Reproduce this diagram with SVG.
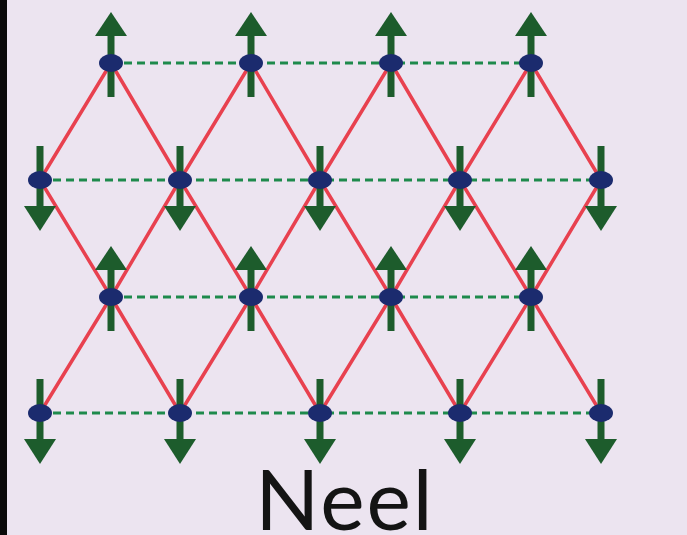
<svg xmlns="http://www.w3.org/2000/svg" width="687" height="535" viewBox="0 0 687 535">
<defs>
<style>
.red{stroke:#e8414f;stroke-width:3.5;fill:none}
.grn{stroke:#1e8a4c;stroke-width:3;stroke-dasharray:8 5;fill:none}
.shaft{stroke:#1d5c2c;stroke-width:7}
.head{fill:#1d5c2c}
.node{fill:#1b2b6e}
</style>
<g id="up"><line class="shaft" x1="0" y1="34" x2="0" y2="-30"/><polygon class="head" points="0,-51 -16,-27 16,-27"/></g>
<g id="down"><line class="shaft" x1="0" y1="-34" x2="0" y2="30"/><polygon class="head" points="0,51 -16,26 16,26"/></g>
</defs>
<rect width="687" height="535" fill="#ece4f0"/>
<rect width="7" height="535" fill="#0a0a0a"/>
<g id="connectors">
<g id="bonds-red">
<polyline class="red" points="40,180 111,63 180,180 251,63 320,180 391,63 460,180 531,63 601,180"/>
<polyline class="red" points="40,180 111,297 180,180 251,297 320,180 391,297 460,180 531,297 601,180"/>
<polyline class="red" points="40,413 111,297 180,413 251,297 320,413 391,297 460,413 531,297 601,413"/>
</g>
<g id="bonds-green">
<line class="grn" x1="111" y1="63" x2="531" y2="63"/>
<line class="grn" x1="40" y1="180" x2="601" y2="180"/>
<line class="grn" x1="111" y1="297" x2="531" y2="297"/>
<line class="grn" x1="40" y1="413" x2="601" y2="413"/>
</g>
</g>
<g id="spins">
<use href="#up" x="111" y="63"/><use href="#up" x="251" y="63"/><use href="#up" x="391" y="63"/><use href="#up" x="531" y="63"/>
<use href="#down" x="40" y="180"/><use href="#down" x="180" y="180"/><use href="#down" x="320" y="180"/><use href="#down" x="460" y="180"/><use href="#down" x="601" y="180"/>
<use href="#up" x="111" y="297"/><use href="#up" x="251" y="297"/><use href="#up" x="391" y="297"/><use href="#up" x="531" y="297"/>
<use href="#down" x="40" y="413"/><use href="#down" x="180" y="413"/><use href="#down" x="320" y="413"/><use href="#down" x="460" y="413"/><use href="#down" x="601" y="413"/>
</g>
<g id="nodes">
<g id="n1-1"><ellipse class="node" cx="111" cy="63" rx="12" ry="9"/></g>
<g id="n1-2"><ellipse class="node" cx="251" cy="63" rx="12" ry="9"/></g>
<g id="n1-3"><ellipse class="node" cx="391" cy="63" rx="12" ry="9"/></g>
<g id="n1-4"><ellipse class="node" cx="531" cy="63" rx="12" ry="9"/></g>
<g id="n2-1"><ellipse class="node" cx="40" cy="180" rx="12" ry="9"/></g>
<g id="n2-2"><ellipse class="node" cx="180" cy="180" rx="12" ry="9"/></g>
<g id="n2-3"><ellipse class="node" cx="320" cy="180" rx="12" ry="9"/></g>
<g id="n2-4"><ellipse class="node" cx="460" cy="180" rx="12" ry="9"/></g>
<g id="n2-5"><ellipse class="node" cx="601" cy="180" rx="12" ry="9"/></g>
<g id="n3-1"><ellipse class="node" cx="111" cy="297" rx="12" ry="9"/></g>
<g id="n3-2"><ellipse class="node" cx="251" cy="297" rx="12" ry="9"/></g>
<g id="n3-3"><ellipse class="node" cx="391" cy="297" rx="12" ry="9"/></g>
<g id="n3-4"><ellipse class="node" cx="531" cy="297" rx="12" ry="9"/></g>
<g id="n4-1"><ellipse class="node" cx="40" cy="413" rx="12" ry="9"/></g>
<g id="n4-2"><ellipse class="node" cx="180" cy="413" rx="12" ry="9"/></g>
<g id="n4-3"><ellipse class="node" cx="320" cy="413" rx="12" ry="9"/></g>
<g id="n4-4"><ellipse class="node" cx="460" cy="413" rx="12" ry="9"/></g>
<g id="n4-5"><ellipse class="node" cx="601" cy="413" rx="12" ry="9"/></g>
</g>
<text x="345" y="530" text-anchor="middle" font-family="Lato, 'Open Sans', sans-serif" font-size="84" letter-spacing="2" fill="#141414">Neel</text>
</svg>
